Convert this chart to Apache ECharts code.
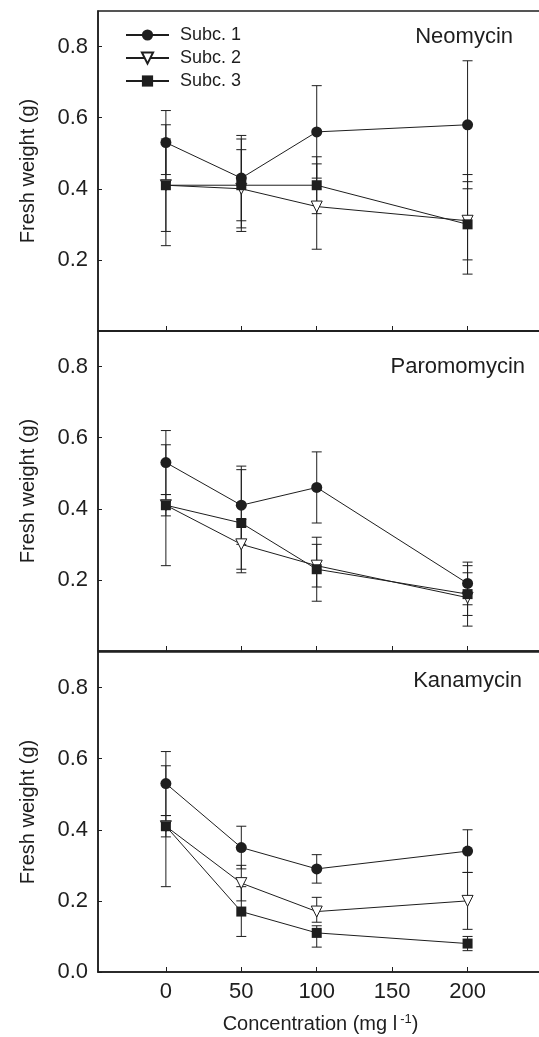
<!DOCTYPE html>
<html lang="en">
<head>
<meta charset="UTF-8">
<title>Fresh weight vs concentration</title>
<script src="https://cdn.jsdelivr.net/npm/echarts@6/dist/echarts.min.js"></script>
<style>
  html, body { margin: 0; padding: 0; background: #fff; }
  #main { width: 539px; height: 1037px; }
</style>
</head>
<body>
<div id="main"></div>
<script>
// concentrations (mg l-1)
var conc = [0, 50, 100, 200];
var xTicks = [0, 50, 100, 150, 200];
var yTicksTop = [0.2, 0.4, 0.6, 0.8];
var yTicksBottom = [0, 0.2, 0.4, 0.6, 0.8];
var panelNames = ['Neomycin', 'Paromomycin', 'Kanamycin'];
var subNames = ['Subc. 1', 'Subc. 2', 'Subc. 3'];

// Neomycin
var neo1 = [0.53, 0.43, 0.56, 0.58], neo1Lo = [0.44, 0.31, 0.43, 0.40], neo1Hi = [0.62, 0.55, 0.69, 0.76];
var neo2 = [0.41, 0.40, 0.35, 0.31], neo2Lo = [0.24, 0.28, 0.23, 0.16], neo2Hi = [0.58, 0.51, 0.47, 0.44];
var neo3 = [0.41, 0.41, 0.41, 0.30], neo3Lo = [0.28, 0.29, 0.33, 0.20], neo3Hi = [0.54, 0.54, 0.49, 0.42];
// Paromomycin
var par1 = [0.53, 0.41, 0.46, 0.19], par1Lo = [0.44, 0.30, 0.36, 0.13], par1Hi = [0.62, 0.52, 0.56, 0.25];
var par2 = [0.41, 0.30, 0.24, 0.15], par2Lo = [0.24, 0.23, 0.14, 0.07], par2Hi = [0.58, 0.37, 0.32, 0.24];
var par3 = [0.41, 0.36, 0.23, 0.16], par3Lo = [0.38, 0.22, 0.18, 0.10], par3Hi = [0.44, 0.51, 0.30, 0.22];
// Kanamycin
var kan1 = [0.53, 0.35, 0.29, 0.34], kan1Lo = [0.44, 0.29, 0.25, 0.28], kan1Hi = [0.62, 0.41, 0.33, 0.40];
var kan2 = [0.41, 0.25, 0.17, 0.20], kan2Lo = [0.24, 0.20, 0.14, 0.12], kan2Hi = [0.58, 0.30, 0.21, 0.28];
var kan3 = [0.41, 0.17, 0.11, 0.08], kan3Lo = [0.38, 0.10, 0.07, 0.06], kan3Hi = [0.44, 0.24, 0.13, 0.10];

var panels = [
  [[neo1, neo1Lo, neo1Hi], [neo2, neo2Lo, neo2Hi], [neo3, neo3Lo, neo3Hi]],
  [[par1, par1Lo, par1Hi], [par2, par2Lo, par2Hi], [par3, par3Lo, par3Hi]],
  [[kan1, kan1Lo, kan1Hi], [kan2, kan2Lo, kan2Hi], [kan3, kan3Lo, kan3Hi]]
];

var FONT = '"Liberation Sans", Arial, Helvetica, sans-serif';
var INK = '#1e1e1e';

var markers = [
  { symbol: 'circle', symbolSize: 11, symbolRotate: 0, itemStyle: { color: INK, borderColor: INK, borderWidth: 0 } },
  { symbol: 'triangle', symbolSize: 11, symbolRotate: 180, itemStyle: { color: '#fff', borderColor: INK, borderWidth: 1 } },
  { symbol: 'rect', symbolSize: 10, symbolRotate: 0, itemStyle: { color: INK, borderColor: INK, borderWidth: 0 } }
];

var gridTops = [11, 331, 652];

function errRender(params, api) {
  var lo = api.coord([api.value(0), api.value(1)]);
  var hi = api.coord([api.value(0), api.value(2)]);
  var w = 5;
  var st = { stroke: INK, lineWidth: 1 };
  return {
    type: 'group',
    children: [
      { type: 'line', shape: { x1: lo[0], y1: lo[1], x2: hi[0], y2: hi[1] }, style: st },
      { type: 'line', shape: { x1: lo[0] - w, y1: lo[1], x2: lo[0] + w, y2: lo[1] }, style: st },
      { type: 'line', shape: { x1: hi[0] - w, y1: hi[1], x2: hi[0] + w, y2: hi[1] }, style: st }
    ]
  };
}

var grids = [], xAxes = [], yAxes = [], series = [], titles = [];
var titleRight = [21, 9, 12];
var titleTop = [21, 351, 665];

for (var p = 0; p < 3; p++) {
  grids.push({
    left: 98, top: gridTops[p], width: 445, height: 320,
    outerBoundsMode: 'none', containLabel: false,
    show: true, borderColor: INK, borderWidth: 1.5, backgroundColor: 'transparent'
  });
  xAxes.push({
    type: 'value', gridIndex: p, min: -45, max: 250,
    axisLine: { show: true, onZero: false, lineStyle: { color: INK, width: 1.5 } },
    axisTick: { show: true, inside: true, length: 5, customValues: xTicks, lineStyle: { color: INK } },
    axisLabel: { show: p === 2, customValues: xTicks, fontSize: 22, color: INK, fontFamily: FONT, margin: 9 },
    splitLine: { show: false },
    name: p === 2 ? 'Concentration (mg l{sup|-1})' : '',
    nameLocation: 'middle', nameGap: 41,
    nameTextStyle: {
      fontSize: 20, color: INK, fontFamily: FONT,
      rich: { sup: { fontSize: 13, verticalAlign: 'top', padding: [0, 0, 10, 3], fontFamily: FONT, color: INK } }
    }
  });
  var yt = p === 2 ? yTicksBottom : yTicksTop;
  yAxes.push({
    type: 'value', gridIndex: p, min: 0, max: 0.9,
    axisLine: { show: true, onZero: false, lineStyle: { color: INK, width: 1.5 } },
    axisTick: { show: true, inside: true, length: 4, customValues: yt, lineStyle: { color: INK } },
    axisLabel: {
      customValues: yt, fontSize: 22, color: INK, fontFamily: FONT, margin: 10,
      formatter: function (v) { return v.toFixed(1); }
    },
    splitLine: { show: false },
    name: 'Fresh weight (g)', nameLocation: 'middle', nameGap: 60,
    nameTextStyle: { fontSize: 20, color: INK, fontFamily: FONT }
  });
  titles.push({
    text: panelNames[p], right: titleRight[p], top: titleTop[p],
    textStyle: { fontSize: 22, fontWeight: 'normal', color: INK, fontFamily: FONT }
  });

  for (var s = 0; s < 3; s++) {
    var lo = panels[p][s][1], hi = panels[p][s][2];
    series.push({
      type: 'custom', name: subNames[s] + ' err', xAxisIndex: p, yAxisIndex: p,
      renderItem: errRender, encode: { x: 0, y: [1, 2] }, z: 1, silent: true,
      data: conc.map(function (c, i) { return [c, lo[i], hi[i]]; })
    });
  }
  for (var s2 = 0; s2 < 3; s2++) {
    var v2 = panels[p][s2][0];
    series.push({
      type: 'line', name: subNames[s2], xAxisIndex: p, yAxisIndex: p, z: 3,
      symbol: markers[s2].symbol, symbolSize: markers[s2].symbolSize, symbolRotate: markers[s2].symbolRotate,
      showAllSymbol: true,
      lineStyle: { color: INK, width: 1 },
      itemStyle: markers[s2].itemStyle,
      emphasis: { disabled: true },
      data: conc.map(function (c, i) { return [c, v2[i]]; })
    });
  }
}

var chart = echarts.init(document.getElementById('main'), null, { renderer: 'canvas' });
chart.setOption({
  animation: false,
  backgroundColor: '#fff',
  textStyle: { fontFamily: FONT },
  title: titles,
  legend: {
    data: subNames, orient: 'vertical', left: 120, top: 20,
    itemWidth: 43, itemHeight: 14, itemGap: 3,
    textStyle: { fontSize: 18, color: INK, fontFamily: FONT, lineHeight: 20, padding: [0, 0, 0, 6] }
  },
  grid: grids,
  xAxis: xAxes,
  yAxis: yAxes,
  series: series
});
</script>
</body>
</html>
